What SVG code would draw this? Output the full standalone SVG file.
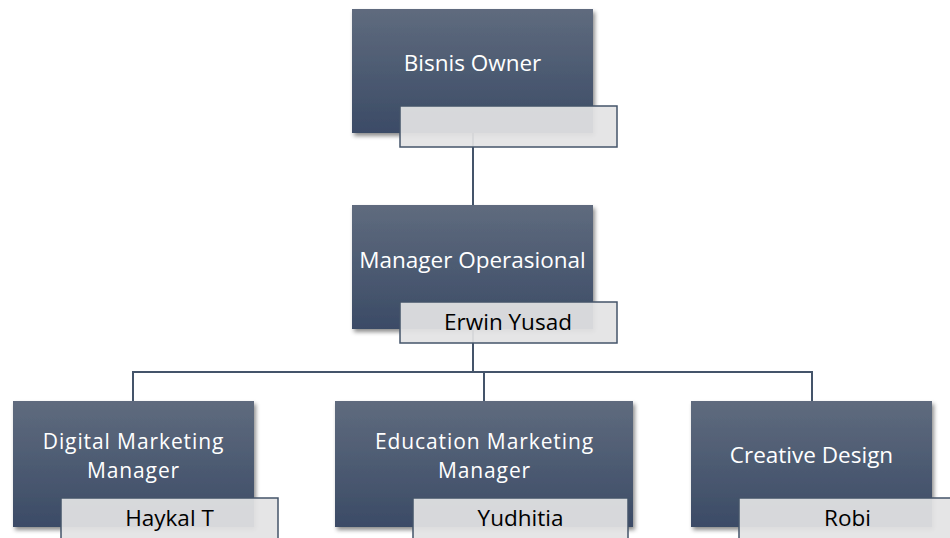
<svg xmlns="http://www.w3.org/2000/svg" width="950" height="538" viewBox="0 0 950 538">
<style>
.box{fill:url(#g);filter:url(#sh)}
.lbl{fill:rgb(227,227,228);fill-opacity:0.93;stroke:#44546a;stroke-width:1.5}
.t{font-family:"Open Sans","Liberation Sans",sans-serif;font-size:22.5px;fill:#ffffff;text-anchor:middle}
.t2{font-family:"Open Sans","Liberation Sans",sans-serif;font-size:21px;letter-spacing:0.9px;fill:#ffffff;text-anchor:middle}
.n{font-family:"Open Sans","Liberation Sans",sans-serif;font-size:22.5px;fill:#000000;text-anchor:middle}
.c{fill:none;stroke:#44546a;stroke-width:2}
</style>
<defs>
<linearGradient id="g" x1="0" y1="0" x2="0" y2="1">
<stop offset="0" stop-color="#5f6b7e"/>
<stop offset="1" stop-color="#3b4b66"/>
</linearGradient>
<filter id="sh" x="-10%" y="-10%" width="125%" height="130%">
<feDropShadow dx="2" dy="3" stdDeviation="2" flood-color="#000" flood-opacity="0.45"/>
</filter>
</defs>
<rect width="950" height="538" fill="#ffffff"/>
<g id="connectors">
<path class="c" d="M473 133 V205"/>
<path class="c" d="M473 329 V372"/>
<path class="c" d="M133 401 V372 H812 V401"/>
<path class="c" d="M484 372 V401"/>
</g>
<g id="owner">
<rect class="box" x="352" y="9" width="241" height="124"/>
<text class="t" x="472.5" y="71">Bisnis Owner</text>
<rect class="lbl" x="400" y="106" width="217" height="41"/>
</g>
<g id="manager">
<rect class="box" x="352" y="205" width="241" height="124"/>
<text class="t" x="472.5" y="268">Manager Operasional</text>
<rect class="lbl" x="400" y="302" width="217" height="41"/>
<text class="n" x="508" y="330">Erwin Yusad</text>
</g>
<g id="digital">
<rect class="box" x="13" y="401" width="241" height="126"/>
<text class="t2" x="133.5" y="449">Digital Marketing</text>
<text class="t2" x="133.5" y="478">Manager</text>
<rect class="lbl" x="61" y="498" width="217" height="44"/>
<text class="n" x="169.5" y="526">Haykal T</text>
</g>
<g id="education">
<rect class="box" x="335" y="401" width="298" height="126"/>
<text class="t2" x="484.5" y="449">Education Marketing</text>
<text class="t2" x="484.5" y="478">Manager</text>
<rect class="lbl" x="413" y="498" width="215" height="44"/>
<text class="n" x="520.5" y="526">Yudhitia</text>
</g>
<g id="creative">
<rect class="box" x="691" y="401" width="241" height="126"/>
<text class="t" x="811.5" y="463">Creative Design</text>
<rect class="lbl" x="739" y="498" width="217" height="44"/>
<text class="n" x="847.5" y="526">Robi</text>
</g>
</svg>
